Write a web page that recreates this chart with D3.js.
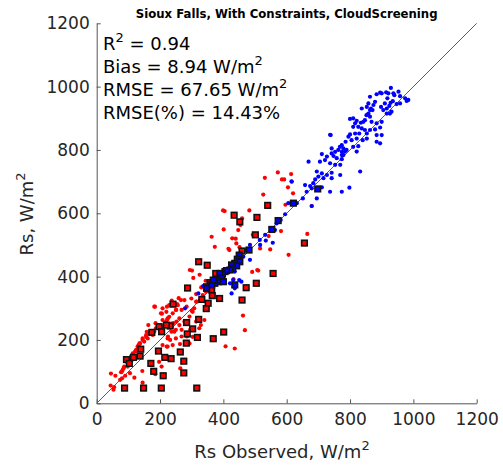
<!DOCTYPE html>
<html><head><meta charset="utf-8">
<script src="https://cdn.jsdelivr.net/npm/d3@7"></script>
<style>body{margin:0;background:#fff}</style></head>
<body><svg id="c" width="503" height="466"></svg>
<script>
const xTicks=[0,200,400,600,800,1000,1200];
const yTicks=[0,200,400,600,800,1000,1200];
const titleText="Sioux Falls, With Constraints, CloudScreening";
const stats=[["R","2"," = 0.94",""],["Bias = 8.94 W/m","2","",""],["RMSE = 67.65 W/m","2","",""],["RMSE(%) = 14.43%","","",""]];

const redDots=[[572,729],[585,707],[592,707],[614,724],[531,712],[615,701],[526,659],[604,682],[620,663],[596,627],[399,609],[404,607],[482,609],[459,584],[454,563],[447,547],[428,521],[439,520],[401,549],[363,526],[373,494],[416,488],[419,484],[451,493],[441,505],[493,532],[516,489],[548,486],[543,528],[582,544],[606,469],[665,535],[413,413],[432,392],[491,415],[510,419],[294,421],[301,419],[325,406],[344,387],[330,366],[314,345],[299,331],[305,396],[259,332],[237,324],[222,305],[254,313],[268,295],[284,305],[300,292],[316,321],[184,305],[206,283],[220,289],[251,295],[252,258],[261,268],[237,242],[236,226],[223,265],[208,263],[242,253],[250,232],[268,232],[295,232],[186,253],[163,247],[158,226],[156,215],[145,205],[137,189],[132,183],[126,168],[121,163],[116,153],[111,137],[98,116],[85,111],[79,100],[90,87],[80,79],[74,74],[59,87],[45,94],[44,56],[55,51],[53,43],[145,65],[144,102],[119,81],[105,95],[197,131],[205,116],[185,92],[221,179],[225,211],[232,200],[263,187],[268,211],[285,211],[293,189],[264,110],[462,277],[468,231],[436,173],[407,180],[507,421],[679,623],
[135,189],[145,200],[156,210],[166,221],[161,205],[150,195],[129,179],[124,168],[114,158],[108,147],[103,137],[98,126],[87,116],[82,105],[77,98],[119,142],[133,152],[140,174],[177,216],[182,226],[187,237],[208,242],[219,258],[224,268],[229,273],[240,284],[250,295],[256,310],[266,326],[277,326],[229,310],[208,300],[182,305],[203,284],[235,252],[245,226],[224,205],[208,184],[240,184],[250,205],[224,179],[261,247],[277,258],[293,274],[303,289],[308,300],[314,321],[326,326],[335,342],[345,352],[324,237],[340,263],[298,237],[282,216],[303,210],[329,247],[314,258]];

const blueDots=[[929,996],[914,982],[895,981],[884,976],[921,979],[953,984],[940,973],[958,970],[974,963],[984,958],[979,955],[935,954],[928,949],[947,945],[958,947],[924,939],[916,931],[905,926],[898,936],[879,952],[874,942],[871,926],[863,926],[858,915],[866,931],[837,931],[852,910],[863,905],[847,894],[868,889],[842,889],[834,886],[821,892],[816,884],[826,873],[810,873],[800,898],[810,900],[900,889],[884,884],[895,871],[879,865],[863,863],[853,852],[847,863],[837,868],[829,852],[816,852],[800,849],[795,842],[805,831],[821,836],[840,831],[853,836],[884,826],[895,821],[900,847],[884,847],[786,826],[774,815],[768,810],[779,805],[763,800],[774,794],[789,800],[810,810],[826,812],[779,784],[742,805],[739,847],[753,794],[926,915],[931,921],[916,915],[863,968],[858,947],[853,936],[910,947],[918,963],[937,979],[900,979],[737,848],
[821,795],[784,795],[774,784],[742,789],[727,779],[711,787],[721,768],[705,763],[737,758],[753,753],[769,753],[774,771],[758,774],[748,781],[669,763],[695,732],[711,726],[700,716],[716,711],[727,721],[742,728],[769,721],[832,732],[742,711],[690,707],[684,695],[674,686],[679,679],[658,689],[616,700],[663,668],[651,647],[695,647],[711,682],[737,668],[774,668],[798,681],[632,632],[605,632],[679,623],[595,597],[581,579],[563,547],[532,532],[534,514],[556,507],[516,500],
[568,568],[515,516],[484,500],[473,484],[484,453],[463,463],[447,442],[436,416],[450,389],[457,384],[431,389],[421,379],[436,363],[426,347],[321,347],[336,370],[279,300]];

const redSquares=[[540,625],[434,594],[452,573],[506,587],[501,532],[459,481],[656,506],[322,447],[349,436],[557,410],[504,379],[472,365],[358,381],[347,368],[363,358],[365,340],[388,331],[459,326],[287,364],[332,328],[352,316],[346,299],[241,313],[322,265],[284,255],[303,235],[286,219],[318,208],[283,190],[368,204],[401,225],[232,244],[220,247],[197,242],[205,226],[174,224],[139,171],[137,149],[116,145],[94,138],[103,126],[195,165],[171,126],[215,145],[235,141],[264,162],[275,133],[180,101],[275,96],[210,87],[88,48],[148,48],[204,48],[316,48],[376,410]];

const blueSquares=[[698,677],[621,632],[573,577],[553,549],[481,484],[450,468],[444,455],[452,447],[436,442],[442,434],[426,437],[429,426],[421,421],[405,416],[410,419],[397,408],[389,410],[394,395],[379,389],[384,384],[373,379],[363,374],[347,363],[436,374],[400,384],[368,389]];

const svg=d3.select("#c");
const x=d3.scaleLinear().domain([0,1200]).range([96.7,476.7]);
const y=d3.scaleLinear().domain([0,1200]).range([403.3,23.3]);
const font="DejaVu Sans";
const tc="#262626";

svg.append("line").attr("x1",x(0)).attr("y1",y(0)).attr("x2",x(1200)).attr("y2",y(1200))
  .attr("stroke","#333").attr("stroke-width",0.8);

svg.append("g").selectAll("circle").data(redDots).join("circle")
  .attr("cx",d=>x(d[0])).attr("cy",d=>y(d[1])).attr("r",2.1).attr("fill","#ff0000");
svg.append("g").selectAll("circle").data(blueDots).join("circle")
  .attr("cx",d=>x(d[0])).attr("cy",d=>y(d[1])).attr("r",2.1).attr("fill","#0000ff");
const sq=5.6;
svg.append("g").selectAll("rect").data(redSquares).join("rect")
  .attr("x",d=>x(d[0])-sq/2).attr("y",d=>y(d[1])-sq/2).attr("width",sq).attr("height",sq)
  .attr("fill","#ff0000").attr("stroke","#111").attr("stroke-width",1.6);
svg.append("g").selectAll("rect").data(blueSquares).join("rect")
  .attr("x",d=>x(d[0])-sq/2).attr("y",d=>y(d[1])-sq/2).attr("width",sq).attr("height",sq)
  .attr("fill","#0000ff").attr("stroke","#111").attr("stroke-width",1.6);

const fmt=d3.format("d");
const gx=svg.append("g").attr("transform",`translate(0,${y(0)})`)
  .call(d3.axisBottom(x).tickValues(xTicks).tickFormat(fmt).tickSizeInner(-4).tickSizeOuter(0).tickPadding(10));
const gy=svg.append("g").attr("transform",`translate(${x(0)},0)`)
  .call(d3.axisLeft(y).tickValues(yTicks).tickFormat(fmt).tickSizeInner(-4).tickSizeOuter(0).tickPadding(7));
[gx,gy].forEach(g=>{
  g.select(".domain").attr("stroke","#555").attr("stroke-width",1);
  g.selectAll(".tick line").attr("stroke","#555");
  g.selectAll("text").attr("font-family",font).attr("font-size",17).attr("fill",tc);
});

svg.append("text").attr("x",286.7).attr("y",18).attr("text-anchor","middle")
  .attr("font-family",font).attr("font-weight","bold").attr("font-size",11.7).attr("fill","#000")
  .text(titleText);

stats.forEach((s,i)=>{
  const t=svg.append("text").attr("x",103).attr("y",50+i*23)
    .attr("font-family",font).attr("font-size",18).attr("fill","#000");
  t.append("tspan").text(s[0]);
  if(s[1]){t.append("tspan").attr("dy",-8).attr("font-size",13).text(s[1]);
    if(s[2]) t.append("tspan").attr("dy",8).text(s[2]);}
});

const xl=svg.append("text").attr("x",282).attr("y",458).attr("text-anchor","middle")
  .attr("font-family",font).attr("font-size",18).attr("fill",tc);
xl.append("tspan").text("Rs Observed, W/m");
xl.append("tspan").attr("dy",-8).attr("font-size",13).text("2");
const yl=svg.append("text").attr("transform",`translate(33,214) rotate(-90)`).attr("text-anchor","middle")
  .attr("font-family",font).attr("font-size",18).attr("fill",tc);
yl.append("tspan").text("Rs, W/m");
yl.append("tspan").attr("dy",-8).attr("font-size",13).text("2");
</script></body></html>
